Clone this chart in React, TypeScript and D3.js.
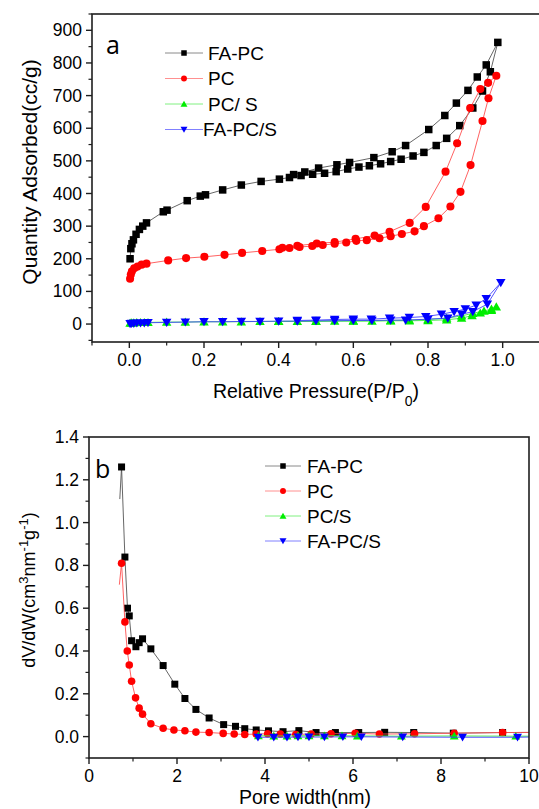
import React from 'react';
import * as d3 from 'd3';

const W = 539;
const H = 809;
const FONT = '"Liberation Sans", Arial, sans-serif';

// ---- panel a: N2 isotherms, relative pressure vs quantity adsorbed (cc/g)
const faPcAdsP = [0.002, 0.004, 0.007, 0.011, 0.018, 0.027, 0.036, 0.046, 0.091, 0.101, 0.155, 0.19, 0.204, 0.25, 0.3, 0.353, 0.402, 0.429, 0.46, 0.491, 0.523, 0.554, 0.585, 0.615, 0.643, 0.673, 0.7, 0.728, 0.76, 0.789, 0.822, 0.85, 0.885, 0.92, 0.946, 0.967, 0.987];
const faPcAdsV = [200, 231, 246, 258, 275, 290, 300, 310, 344, 349, 378, 392, 396, 411, 426, 437, 444, 449, 455, 459, 462, 467, 475, 481, 485, 491, 498, 505, 515, 526, 547, 569, 608, 662, 714, 773, 863];
const faPcDesP = [0.956, 0.932, 0.907, 0.876, 0.845, 0.802, 0.74, 0.704, 0.655, 0.59, 0.556, 0.507, 0.47, 0.44];
const faPcDesV = [794, 757, 716, 677, 639, 596, 547, 528, 510, 495, 488, 478, 466, 458];

const pcAdsP = [0.002, 0.004, 0.007, 0.013, 0.022, 0.033, 0.046, 0.104, 0.152, 0.201, 0.255, 0.302, 0.356, 0.402, 0.429, 0.456, 0.49, 0.518, 0.55, 0.581, 0.608, 0.636, 0.67, 0.7, 0.73, 0.764, 0.789, 0.828, 0.86, 0.887, 0.914, 0.946, 0.962, 0.983];
const pcAdsV = [139, 152, 162, 171, 176, 182, 185, 195, 202, 206, 212, 218, 224, 229, 233, 236, 239, 242, 246, 250, 255, 257, 263, 269, 276, 284, 300, 324, 360, 405, 487, 622, 692, 761];
const pcDesP = [0.961, 0.94, 0.913, 0.878, 0.847, 0.794, 0.751, 0.697, 0.657, 0.606, 0.55, 0.502, 0.45, 0.41];
const pcDesV = [739, 720, 662, 554, 467, 359, 310, 283, 271, 261, 251, 247, 240, 234];

const pcSAdsP = [0.002, 0.006, 0.012, 0.02, 0.03, 0.04, 0.05, 0.1, 0.15, 0.2, 0.25, 0.3, 0.35, 0.4, 0.45, 0.5, 0.55, 0.6, 0.65, 0.7, 0.75, 0.8, 0.85, 0.89, 0.918, 0.94, 0.97, 0.983];
const pcSAdsV = [3, 4, 4, 5, 5, 5, 5, 6, 6, 7, 7, 7, 8, 8, 8, 8, 9, 9, 9, 10, 10, 11, 13, 18, 26, 34, 42, 53];
const pcSDesP = [0.97, 0.95, 0.92, 0.89, 0.85, 0.8, 0.75, 0.7, 0.6, 0.5, 0.4];
const pcSDesV = [46, 40, 33, 25, 18, 14, 12, 11, 10, 9, 8];

const faPcSAdsP = [0.002, 0.006, 0.012, 0.02, 0.03, 0.04, 0.05, 0.1, 0.15, 0.2, 0.25, 0.3, 0.35, 0.4, 0.45, 0.5, 0.55, 0.6, 0.65, 0.7, 0.74, 0.8, 0.853, 0.89, 0.92, 0.959, 0.995];
const faPcSAdsV = [1, 2, 2, 3, 3, 3, 4, 5, 6, 7, 7, 8, 8, 9, 9, 10, 10, 11, 11, 12, 12, 15, 18, 30, 38, 61, 127];
const faPcSDesP = [0.956, 0.929, 0.9, 0.87, 0.836, 0.794, 0.75, 0.697, 0.648, 0.6, 0.55, 0.5, 0.45];
const faPcSDesV = [78, 58, 46, 38, 30, 23, 20, 18, 15, 15, 14, 12, 11];

// ---- panel b: pore size distribution, pore width (nm) vs dV/dW
const faPcW = [0.7, 0.74, 0.816, 0.875, 0.915, 0.968, 1.066, 1.14, 1.217, 1.406, 1.685, 1.95, 2.18, 2.43, 2.73, 3.06, 3.33, 3.54, 3.8, 4.08, 4.41, 4.77, 5.16, 5.6, 6.13, 6.72, 7.38, 8.28, 9.4, 10.6];
const faPcDv = [1.11, 1.26, 0.839, 0.6, 0.564, 0.448, 0.42, 0.439, 0.457, 0.41, 0.332, 0.245, 0.178, 0.127, 0.087, 0.056, 0.048, 0.037, 0.031, 0.027, 0.023, 0.028, 0.019, 0.019, 0.019, 0.02, 0.019, 0.016, 0.019, 0.02];
const pcW = [0.69, 0.74, 0.816, 0.87, 0.915, 0.968, 1.058, 1.14, 1.217, 1.406, 1.685, 1.93, 2.18, 2.43, 2.73, 3.05, 3.3, 3.54, 3.8, 4.06, 4.35, 4.7, 5.05, 5.5, 6.05, 6.6, 7.4, 8.3, 9.4, 10.6];
const pcDv = [0.71, 0.81, 0.536, 0.4, 0.335, 0.259, 0.181, 0.133, 0.105, 0.06, 0.039, 0.031, 0.027, 0.021, 0.019, 0.015, 0.012, 0.01, 0.012, 0.013, 0.012, 0.01, 0.012, 0.013, 0.015, 0.012, 0.013, 0.016, 0.019, 0.02];
const pcSW = [3.85, 4.2, 4.5, 4.75, 5.0, 5.35, 5.75, 6.1, 7.1, 8.3, 9.7, 10.6];
const pcSDv = [0.004, 0.003, 0.003, 0.004, 0.004, 0.004, 0.004, 0.003, 0.002, 0.003, 0.002, 0.002];
const faPcSW = [3.84, 4.2, 4.5, 4.75, 5.0, 5.35, 5.77, 6.19, 7.13, 8.49, 9.74, 10.6];
const faPcSDv = [-0.003, -0.003, -0.003, -0.002, -0.002, -0.002, -0.001, -0.001, -0.002, -0.003, -0.003, 0.0];

// ticks
const aXMajor = [0, 0.2, 0.4, 0.6, 0.8, 1.0];
const aXMinor = [-0.1, 0.1, 0.3, 0.5, 0.7, 0.9, 1.1];
const aYMajor = [0, 100, 200, 300, 400, 500, 600, 700, 800, 900];
const aYMinor = [-50, 50, 150, 250, 350, 450, 550, 650, 750, 850, 950];
const bXMajor = [0, 2, 4, 6, 8, 10];
const bXMinor = [1, 3, 5, 7, 9];
const bYMajor = [0, 0.2, 0.4, 0.6, 0.8, 1.0, 1.2, 1.4];
const bYMinor = [-0.1, 0.1, 0.3, 0.5, 0.7, 0.9, 1.1, 1.3];

const aNames = ['FA-PC', 'PC', 'PC/ S', 'FA-PC/S'];
const bNames = ['FA-PC', 'PC', 'PC/S', 'FA-PC/S'];
const colors = ['#000000', '#ff0000', '#00ee00', '#0000ff'];
const lineColors = ['#555555', '#ff5050', '#40f040', '#4040ff'];
const legendLineColors = ['#8a8a8a', '#ff9090', '#80f080', '#8080ff'];
const shapes = ['square', 'circle', 'up', 'down'];
const shapeScale = [1, 1.08, 1.15, 1.15];

type Series = { x: number[]; y: number[]; skipFirst?: boolean };

function markerPath(shape: string, s: number) {
  const h = s / 2;
  if (shape === 'square') return `M${-h},${-h}H${h}V${h}H${-h}Z`;
  if (shape === 'circle') return `M${-h},0A${h},${h} 0 1,0 ${h},0A${h},${h} 0 1,0 ${-h},0Z`;
  if (shape === 'up') return `M0,${-h * 1.05}L${h * 1.1},${h * 0.85}L${-h * 1.1},${h * 0.85}Z`;
  return `M0,${h * 1.05}L${h * 1.1},${-h * 0.85}L${-h * 1.1},${-h * 0.85}Z`;
}

function Panel(props: any) {
  const { box, xDomain, yDomain, xMajor, xMinor, yMajor, yMinor, xFmt, yFmt, series, names, legend, letter, xTitle, yTitle, msize, id } = props;
  const x = d3.scaleLinear().domain(xDomain).range([box.left, box.right]);
  const y = d3.scaleLinear().domain(yDomain).range([box.bottom, box.top]);
  const line = d3.line<[number, number]>().x(d => x(d[0])).y(d => y(d[1]));
  const stroke = '#1e1e1e';
  return (
    <g>
      <defs>
        <clipPath id={id}>
          <rect x={box.left} y={box.top} width={box.right - box.left} height={box.bottom - box.top} />
        </clipPath>
      </defs>
      <g clipPath={`url(#${id})`}>
        {series.map((s: Series, i: number) => {
          const pts = s.x.map((v, k) => [v, s.y[k]] as [number, number]);
          return (
            <g key={i}>
              <path d={line(pts) || ''} fill="none" stroke={lineColors[i]} strokeWidth={0.9} />
              {pts.map((p, k) =>
                s.skipFirst && k === 0 ? null : (
                  <path key={k} d={markerPath(shapes[i], msize * shapeScale[i])} transform={`translate(${x(p[0])},${y(p[1])})`} fill={colors[i]} />
                )
              )}
            </g>
          );
        })}
      </g>
      <rect x={box.left} y={box.top} width={box.right - box.left} height={box.bottom - box.top} fill="none" stroke={stroke} strokeWidth={1.6} />
      {/* x axis ticks */}
      {xMajor.map((t: number) => (
        <g key={'xM' + t}>
          <line x1={x(t)} x2={x(t)} y1={box.bottom} y2={box.bottom + 6} stroke={stroke} strokeWidth={1.4} />
          <text x={x(t)} y={box.bottom + 24} textAnchor="middle" fontSize={17.5} fontFamily={FONT}>{xFmt(t)}</text>
        </g>
      ))}
      {xMinor.map((t: number) => (
        <line key={'xm' + t} x1={x(t)} x2={x(t)} y1={box.bottom} y2={box.bottom + 3.5} stroke={stroke} strokeWidth={1.2} />
      ))}
      {yMajor.map((t: number) => (
        <g key={'yM' + t}>
          <line x1={box.left - 6} x2={box.left} y1={y(t)} y2={y(t)} stroke={stroke} strokeWidth={1.4} />
          <text x={box.left - 10} y={y(t) + 6} textAnchor="end" fontSize={17.5} fontFamily={FONT}>{yFmt(t)}</text>
        </g>
      ))}
      {yMinor.map((t: number) => (
        <line key={'ym' + t} x1={box.left - 3.5} x2={box.left} y1={y(t)} y2={y(t)} stroke={stroke} strokeWidth={1.2} />
      ))}
      {/* panel letter */}
      <text x={letter.x} y={letter.y} fontSize={25} fontFamily='"Open Sans", sans-serif'>{letter.text}</text>
      {/* legend */}
      {names.map((n: string, i: number) => {
        const cy = legend.y + i * legend.dy;
        return (
          <g key={n}>
            <line x1={legend.x} x2={legend.x + legend.len} y1={cy} y2={cy} stroke={legendLineColors[i]} strokeWidth={1} />
            <path d={markerPath(shapes[i], 5.5 * shapeScale[i])} transform={`translate(${legend.x + legend.len / 2},${cy})`} fill={colors[i]} />
            <text x={legend.x + legend.len + legend.gap[i]} y={cy + 6.5} fontSize={19} fontFamily={FONT}>{n}</text>
          </g>
        );
      })}
      {/* titles */}
      <text x={xTitle.x} y={xTitle.y} textAnchor="middle" fontSize={19.5} fontFamily={FONT}>{xTitle.content}</text>
      <text transform={`translate(${yTitle.x},${yTitle.y}) rotate(-90)`} textAnchor="middle" fontSize={yTitle.size} fontFamily={FONT}>{yTitle.content}</text>
    </g>
  );
}

export default function App() {
  const fmt1 = d3.format('.1f');
  const fmt0 = d3.format('d');
  const aSeries: Series[] = [
    { x: faPcAdsP.concat(faPcDesP), y: faPcAdsV.concat(faPcDesV) },
    { x: pcAdsP.concat(pcDesP), y: pcAdsV.concat(pcDesV) },
    { x: pcSAdsP.concat(pcSDesP), y: pcSAdsV.concat(pcSDesV) },
    { x: faPcSAdsP.concat(faPcSDesP), y: faPcSAdsV.concat(faPcSDesV) },
  ];
  const bSeries: Series[] = [
    { x: faPcW, y: faPcDv, skipFirst: true },
    { x: pcW, y: pcDv, skipFirst: true },
    { x: pcSW, y: pcSDv },
    { x: faPcSW, y: faPcSDv },
  ];
  return (
    <svg width={W} height={H} style={{ position: 'absolute', left: 0, top: 0, background: '#fff' }}>
      <rect width={W} height={H} fill="#fff" />
      <Panel
        id="clipA"
        box={{ left: 92, right: 540, top: 14, bottom: 342 }}
        xDomain={[-0.1, 1.1]}
        yDomain={[-55, 950]}
        xMajor={aXMajor}
        xMinor={aXMinor}
        yMajor={aYMajor}
        yMinor={aYMinor}
        xFmt={fmt1}
        yFmt={fmt0}
        series={aSeries}
        names={aNames}
        msize={7.5}
        legend={{ x: 165, y: 53, dy: 25.5, len: 38, gap: [5, 5, 5, 0] }}
        letter={{ x: 106, y: 54, text: 'a' }}
        xTitle={{ x: 316, y: 398, content: <>Relative Pressure(P/P<tspan baselineShift="sub" fontSize={14}>0</tspan>)</> }}
        yTitle={{ x: 37, y: 172, size: 21, content: 'Quantity Adsorbed(cc/g)' }}
      />
      <Panel
        id="clipB"
        box={{ left: 89, right: 529, top: 437, bottom: 758 }}
        xDomain={[0, 10]}
        yDomain={[-0.1, 1.4]}
        xMajor={bXMajor}
        xMinor={bXMinor}
        yMajor={bYMajor}
        yMinor={bYMinor}
        xFmt={fmt0}
        yFmt={fmt1}
        series={bSeries}
        names={bNames}
        msize={7}
        legend={{ x: 265, y: 466, dy: 25, len: 36, gap: [6, 6, 6, 6] }}
        letter={{ x: 95, y: 478, text: 'b' }}
        xTitle={{ x: 305, y: 804, content: 'Pore width(nm)' }}
        yTitle={{
          x: 35, y: 590, size: 18,
          content: <>dV/dW(cm<tspan baselineShift="super" fontSize={13}>3</tspan>nm<tspan baselineShift="super" fontSize={13}>-1</tspan>g<tspan baselineShift="super" fontSize={13}>-1</tspan>)</>,
        }}
      />
    </svg>
  );
}
